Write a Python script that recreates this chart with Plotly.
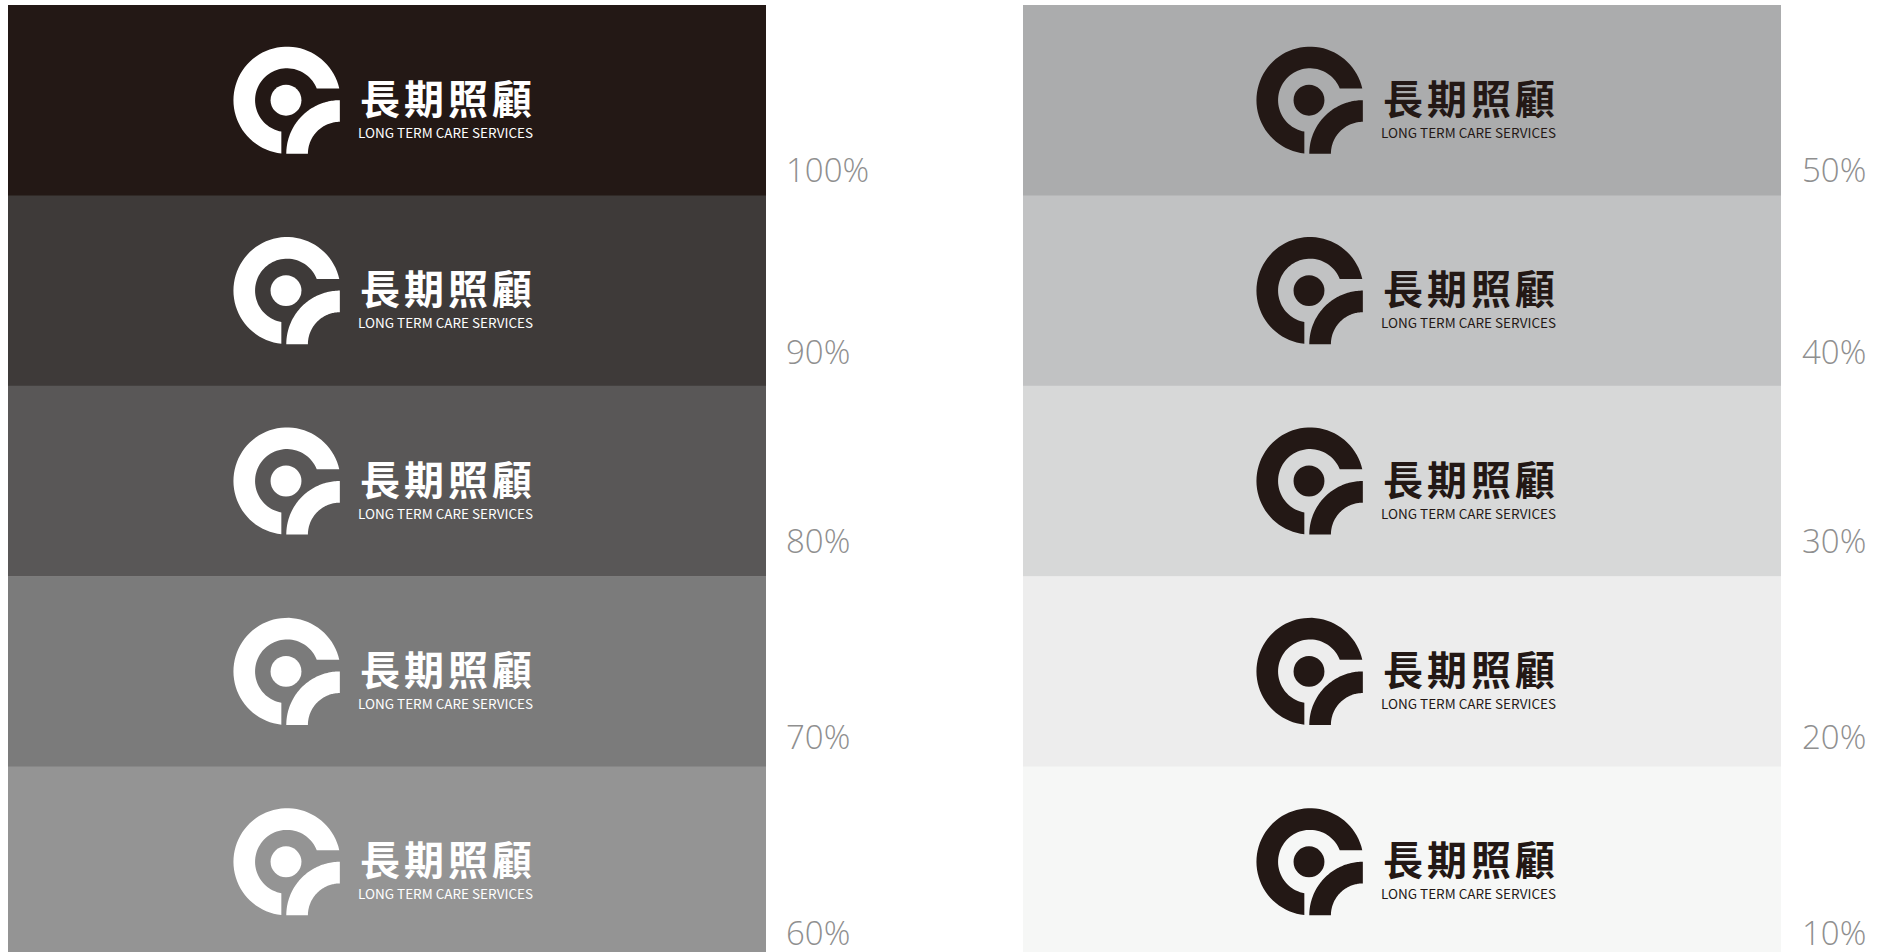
import math
import plotly.graph_objects as go

# ---------------- data ----------------
ROWS = [0, 1, 2, 3, 4]
COLUMNS = [0, 1]
LEVELS_LEFT = [100, 90, 80, 70, 60]
LEVELS_RIGHT = [50, 40, 30, 20, 10]
COLORS_LEFT = ["#231815", "#3e3a39", "#595757", "#7b7b7b", "#949494"]
COLORS_RIGHT = ["#abacad", "#c1c2c3", "#d7d8d8", "#ededed", "#f6f7f6"]
LOGO_COLORS = ["#ffffff", "#231815"]
TITLE_ZH = "長期照顧"
TITLE_EN = "LONG TERM CARE SERVICES"

# ---------------- layout constants (pixels) ----------------
W, H = 1890, 952
COL_CENTER_PX = [387, 1402]
PANEL_W_PX = 758
ROW_TOP_PX = 5
ROW_H_PX = 190.4
LOGO_DX = [-100, -92]          # logo centre offset from panel centre
ZH_DX, ZH_PITCH, ZH_GLYPH = 74, 44, 37
EN_DX = 69
ZH_DY, EN_DY = -3.5, 31.5
LABEL_DX = [18, 19]            # label anchor offset from panel right edge
LABEL_DY = [-25.5, -34.5, -35.5, -30, -24.5]  # label centre offset from row bottom

XU = COL_CENTER_PX[1] - COL_CENTER_PX[0]   # pixels per x unit
YU = ROW_H_PX                              # pixels per y unit


def px_x(p):
    return (p - COL_CENTER_PX[0]) / XU


def px_y(p):
    return (p - ROW_TOP_PX) / YU


X_RANGE = [px_x(0), px_x(W)]
Y_RANGE = [px_y(H), px_y(0)]

fig = go.Figure()
for col, levels, colors in [(0, LEVELS_LEFT, COLORS_LEFT), (1, LEVELS_RIGHT, COLORS_RIGHT)]:
    fig.add_trace(go.Bar(
        x=[col] * len(ROWS), y=[1.003] * len(ROWS), base=ROWS,
        width=PANEL_W_PX / XU,
        marker=dict(color=colors, line=dict(width=0)),
        customdata=levels, hoverinfo="skip", showlegend=False,
    ))

# ---------------- logo geometry (pixel units) ----------------
S = 1.03
R_OUT, R_IN = 52 * S, 31 * S
TOP_CUT = 11.3 * S
BOT_CUT = 5.5 * S
DOT_R, DOT_DX = 15 * S, -1
ARC_CX, ARC_CY = 51.3 * S, 52 * S


def pts_arc(ax, ay, ocx, ocy, rho, t0, t1, n=60):
    out = []
    for i in range(n + 1):
        t = t0 + (t1 - t0) * i / n
        out.append((ax + (ocx + rho * math.cos(t)) / XU, ay + (ocy + rho * math.sin(t)) / YU))
    return out


def to_path(pts):
    s = "M %.5f,%.5f" % pts[0]
    for p in pts[1:]:
        s += " L %.5f,%.5f" % p
    return s + " Z"


LABEL_FONT = "Open Sans"

shapes = []
annotations = []
for col, levels in [(0, LEVELS_LEFT), (1, LEVELS_RIGHT)]:
    color = LOGO_COLORS[col]
    for row, lev in zip(ROWS, levels):
        ax = col + LOGO_DX[col] / XU
        ay = row + 0.5
        # C ring
        to1 = -math.asin(TOP_CUT / R_OUT)
        ti1 = -math.asin(TOP_CUT / R_IN)
        to2 = math.acos(-BOT_CUT / R_OUT) - 2 * math.pi
        ti2 = math.acos(-BOT_CUT / R_IN) - 2 * math.pi
        ring = pts_arc(ax, ay, 0, 0, R_OUT, to1, to2) + pts_arc(ax, ay, 0, 0, R_IN, ti2, ti1)
        shapes.append(dict(type="path", path=to_path(ring), xref="x", yref="y",
                           fillcolor=color, line=dict(width=0), layer="above"))
        # quarter arc
        arc = pts_arc(ax, ay, ARC_CX, ARC_CY, R_OUT, math.pi, 1.5 * math.pi) + \
            pts_arc(ax, ay, ARC_CX, ARC_CY, R_IN, 1.5 * math.pi, math.pi)
        shapes.append(dict(type="path", path=to_path(arc), xref="x", yref="y",
                           fillcolor=color, line=dict(width=0), layer="above"))
        # dot
        shapes.append(dict(type="circle", xref="x", yref="y",
                           x0=ax + (DOT_DX - DOT_R) / XU, x1=ax + (DOT_DX + DOT_R) / XU,
                           y0=ay - DOT_R / YU, y1=ay + DOT_R / YU,
                           fillcolor=color, line=dict(width=0), layer="above"))
        # Chinese name, spaced characters
        for i, ch in enumerate(TITLE_ZH):
            annotations.append(dict(
                x=ax + (ZH_DX + ZH_GLYPH / 2 + i * ZH_PITCH) / XU, y=ay + ZH_DY / YU,
                xref="x", yref="y", text=ch, showarrow=False,
                xanchor="center", yanchor="middle",
                font=dict(family="Noto Sans CJK TC", size=40, weight=700, color=color)))
        annotations.append(dict(x=ax + EN_DX / XU, y=ay + EN_DY / YU, xref="x", yref="y",
                                text=TITLE_EN, showarrow=False, xanchor="left", yanchor="middle",
                                font=dict(family="Noto Sans CJK TC", size=13.5, color=color)))
        # percentage label
        lx = col + (PANEL_W_PX / 2 + LABEL_DX[col]) / XU
        ly = row + 1 + LABEL_DY[row] / YU
        annotations.append(dict(x=lx, y=ly, xref="x", yref="y", text="%d%%" % lev,
                                showarrow=False, xanchor="left", yanchor="middle",
                                font=dict(family=LABEL_FONT, size=33, weight=300, color="#8f8f8f")))

fig.update_layout(
    width=W, height=H, margin=dict(l=0, r=0, t=0, b=0),
    paper_bgcolor="#ffffff", plot_bgcolor="#ffffff",
    barmode="overlay", showlegend=False,
    xaxis=dict(range=X_RANGE, visible=False, fixedrange=True),
    yaxis=dict(range=Y_RANGE, visible=False, fixedrange=True),
    shapes=shapes, annotations=annotations,
)

fig.write_html("out.html", config={"displayModeBar": False, "staticPlot": True},
               post_script="document.body.style.margin='0';document.body.style.overflow='hidden';")
